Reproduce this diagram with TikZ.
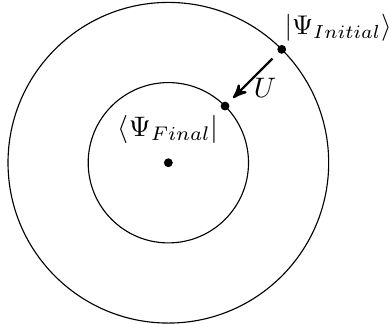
\documentclass[tikz,border=0pt]{standalone}
\usepackage{amsmath}
\usepackage{amssymb}
\usepackage{tikz}
\usetikzlibrary{arrows, positioning}
\tikzstyle{sphere} = [line width=0.4pt, draw=black]
\tikzstyle{state} = [circle, fill=black, inner sep=0pt, minimum size=0.11cm]
\tikzstyle{arrow} = [thick,->,>=stealth']

\begin{document}
\begin{tikzpicture}
\useasboundingbox (-2.1,-2.01) rectangle (2.79,2.03);

% Circles
\draw [sphere] (0,0) circle (2cm);
\draw [sphere] (0,0) circle (1cm);

% Points
\node (centre) [state] at (0,0) {};
\node (initial) [state] at (45:2cm) {};
\node (final) [state] at (45:1cm) {};

% Labels
\node (initlabel) [anchor=south west, inner sep=0pt, xshift=0.03cm, yshift=0.1cm, scale=0.96] at (initial) {$|\Psi_{Initial}\rangle$};
\node (finallabel) [above=0.05cm of centre] {$\langle\Psi_{Final}|$};

% Evolution
\draw [arrow, shorten <=0.1cm, shorten >=0.08cm] (initial) -- node[right, pos=0.7] {$U$} (final);

\end{tikzpicture}
\end{document}
